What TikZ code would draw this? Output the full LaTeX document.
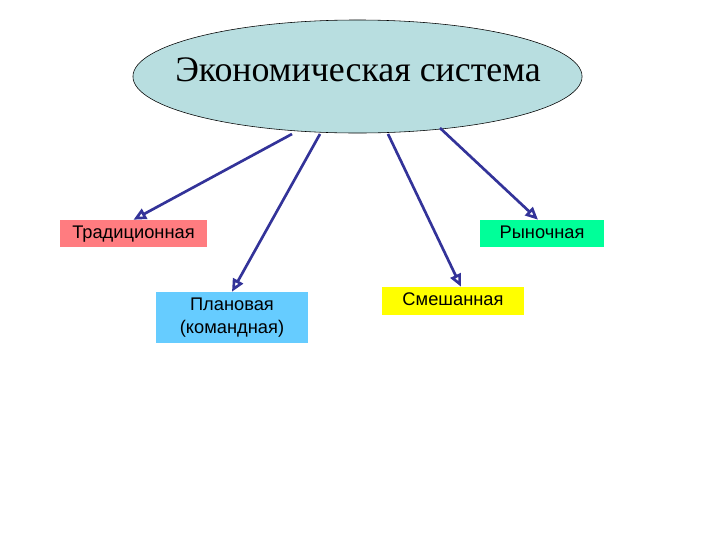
\documentclass[tikz,border=0pt]{standalone}
\usepackage{fontspec}
\setmainfont{Liberation Sans}
\newfontfamily\titlefont{Liberation Serif}
\usetikzlibrary{shapes.geometric,arrows.meta}

\definecolor{ellipsecol}{RGB}{184,222,224}
\definecolor{tradcol}{RGB}{255,124,128}
\definecolor{plancol}{RGB}{102,204,255}
\definecolor{mixcol}{RGB}{255,255,0}
\definecolor{marketcol}{RGB}{0,255,153}
\definecolor{arrowcol}{RGB}{51,51,153}

\begin{document}
\begin{tikzpicture}[x=0.025cm, y=-0.025cm,
        typebox/.style={inner sep=0pt, font=\fontsize{13}{16}\selectfont, align=center},
        link/.style={arrowcol, line width=1.9pt, -{Triangle[open, length=9pt, width=8pt]}}]
    \useasboundingbox (0,0) rectangle (720,540);

    % main ellipse
    \node [ellipse, draw=black, thin, fill=ellipsecol, minimum width=11.225cm,
        minimum height=2.825cm, inner sep=0pt] (eco) at (357.5,76.5) {};
    \node [font=\titlefont\fontsize{25.5}{30}\selectfont] (ecotext) at (358,70) {Экономическая система};

    % kinds of economy
    \node [typebox, fill=tradcol, minimum width=3.675cm, minimum height=0.675cm] (trad) at (133.5,233.5) {\strut Традиционная};
    \node [typebox, fill=plancol, minimum width=3.8cm, minimum height=1.275cm] (plan) at (232,317.5) {Плановая\\(командная)};
    \node [typebox, fill=mixcol, minimum width=3.55cm, minimum height=0.7cm] (mixed) at (453,301) {\strut Смешанная};
    \node [typebox, fill=marketcol, minimum width=3.1cm, minimum height=0.675cm] (market) at (542,233.5) {\strut Рыночная};

    % arrows start just below the ellipse
    \coordinate (s1) at (292,134);
    \coordinate (s2) at (320,134);
    \coordinate (s3) at (388,134);
    \coordinate (s4) at (440,128);

    \draw [link] (s1) -- (trad.north);
    \draw [link] (s2) -- (plan.north);
    \draw [link] (s3) -- ([xshift=0.2cm]mixed.north);
    \draw [link] (s4) -- ([xshift=-0.1cm]market.north);
\end{tikzpicture}
\end{document}
